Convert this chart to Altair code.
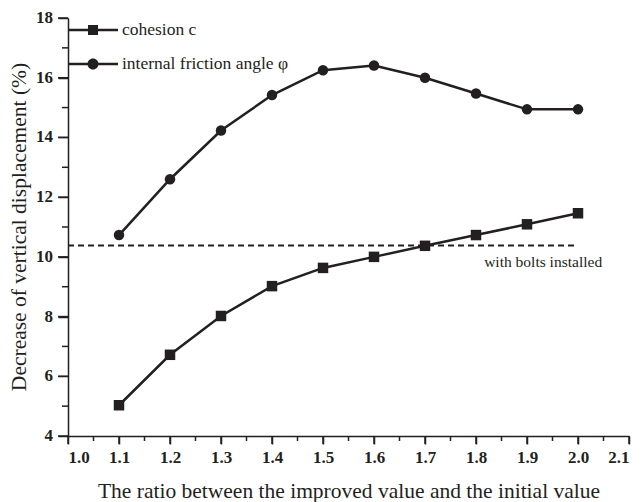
import altair as alt
import pandas as pd

# ---- data ----
ratio = [1.1, 1.2, 1.3, 1.4, 1.5, 1.6, 1.7, 1.8, 1.9, 2.0]
cohesion = [5.03, 6.72, 8.02, 9.02, 9.63, 10.0, 10.37, 10.73, 11.09, 11.46]
friction = [10.73, 12.6, 14.23, 15.42, 16.25, 16.41, 16.0, 15.47, 14.94, 14.94]
series_names = ["cohesion c", "internal friction angle φ"]
bolts_x = [1.0, 2.0]
bolts_value = 10.38
bolts_label = "with bolts installed"
bolts_label_pos = (1.816, 9.84)
x_major = [1.0, 1.1, 1.2, 1.3, 1.4, 1.5, 1.6, 1.7, 1.8, 1.9, 2.0, 2.1]
x_minor = [1.05, 1.15, 1.25, 1.35, 1.45, 1.55, 1.65, 1.75, 1.85, 1.95, 2.05]
y_major = [4, 6, 8, 10, 12, 14, 16, 18]
y_minor = [5, 7, 9, 11, 13, 15, 17]
y_title = "Decrease of vertical displacement (%)"
x_title = "The ratio between the improved value and the initial value"

INK = "#231f20"
FONT = "Liberation Serif"

df = pd.DataFrame({
    "ratio": ratio * 2,
    "value": cohesion + friction,
    "series": [series_names[0]] * len(ratio) + [series_names[1]] * len(ratio),
})
bolts_df = pd.DataFrame({"x": [bolts_x[0]], "x2": [bolts_x[1]], "y": [bolts_value]})
label_df = pd.DataFrame({"x": [bolts_label_pos[0]], "y": [bolts_label_pos[1]], "t": [bolts_label]})
xminor_df = pd.DataFrame({"x": x_minor})
xmajor_df = pd.DataFrame({"x": x_major})
yminor_df = pd.DataFrame({"y": y_minor})
ymajor_df = pd.DataFrame({"y": y_major, "lab": [str(v) for v in y_major]})
ytitle_df = pd.DataFrame({"t": [y_title]})

x_scale = alt.Scale(domain=[1.0, 2.1], nice=False, zero=False)
y_scale = alt.Scale(domain=[4, 18], nice=False, zero=False)

axis_style = dict(
    domainColor=INK, domainWidth=1.5, tickColor=INK, tickWidth=1.5,
    labelFont=FONT, labelFontSize=17, labelFontWeight="bold", labelColor=INK,
    titleFont=FONT, titleFontSize=21.5, titleFontWeight="normal", titleColor=INK,
    grid=False,
)
x_axis = alt.Axis(
    values=x_major, format=".1f", tickSize=8, title=x_title,
    labelPadding=5, titlePadding=15, **axis_style,
)
y_axis = alt.Axis(
    values=y_major, tickSize=10, labels=False, title=None, **axis_style,
)

base = alt.Chart(df)

lines = base.mark_line(color=INK, strokeWidth=2.5).encode(
    x=alt.X("ratio:Q", scale=x_scale, axis=x_axis),
    y=alt.Y("value:Q", scale=y_scale, axis=y_axis),
    detail="series:N",
)

points = base.mark_point(filled=True, color=INK, opacity=1, size=110).encode(
    x=alt.X("ratio:Q", scale=x_scale),
    y=alt.Y("value:Q", scale=y_scale),
    shape=alt.Shape("series:N", scale=alt.Scale(domain=series_names, range=["square", "circle"]), legend=None),
)

# legend symbols: a thin filled bar (the line) with the marker in the middle, all filled
legend_paths = [
    "M-1,-0.05L1,-0.05L1,0.05L-1,0.05ZM-0.2,-0.2L0.2,-0.2L0.2,0.2L-0.2,0.2Z",
    "M-1,-0.05L1,-0.05L1,0.05L-1,0.05ZM0.22,0A0.22,0.22,0,1,1,-0.22,0A0.22,0.22,0,1,1,0.22,0Z",
]
legend_layer = base.mark_point(filled=True, color=INK, opacity=1, clip=True).encode(
    y=alt.value(-500),
    shape=alt.Shape(
        "series:N",
        scale=alt.Scale(domain=series_names, range=legend_paths),
        legend=alt.Legend(
            title=None, orient="none", legendX=0, legendY=-13, padding=0,
            symbolSize=2500, symbolStrokeWidth=0, symbolFillColor=INK,
            labelFont=FONT, labelFontSize=17.5, labelColor=INK, labelOffset=4,
            labelLimit=400, rowPadding=-14, symbolOpacity=1,
        ),
    ),
)

xminor = alt.Chart(xminor_df).mark_tick(
    orient="vertical", size=5, thickness=1.5, color=INK, opacity=1, yOffset=2.5, clip=False
).encode(x=alt.X("x:Q", scale=x_scale), y=alt.Y(datum=4, scale=y_scale))

xmajor = alt.Chart(xmajor_df).mark_tick(
    orient="vertical", size=8, thickness=1.5, color=INK, opacity=1, yOffset=4, clip=False
).encode(x=alt.X("x:Q", scale=x_scale), y=alt.Y(datum=4, scale=y_scale))

yminor = alt.Chart(yminor_df).mark_tick(
    orient="horizontal", size=6, thickness=1.5, color=INK, opacity=1, xOffset=-3, clip=False
).encode(y=alt.Y("y:Q", scale=y_scale), x=alt.X(datum=1.0, scale=x_scale))

ymajor = alt.Chart(ymajor_df).mark_tick(
    orient="horizontal", size=10, thickness=1.5, color=INK, opacity=1, xOffset=-5, clip=False
).encode(y=alt.Y("y:Q", scale=y_scale), x=alt.X(datum=1.0, scale=x_scale))

ylabels = alt.Chart(ymajor_df).mark_text(
    align="right", baseline="middle", font=FONT, fontSize=17, fontWeight="bold",
    color=INK, xOffset=-15, clip=False
).encode(y=alt.Y("y:Q", scale=y_scale), x=alt.X(datum=1.0, scale=x_scale), text="lab:N")

ytitle = alt.Chart(ytitle_df).mark_text(
    align="center", baseline="middle", font=FONT, fontSize=21.5, color=INK,
    angle=270, xOffset=-48, clip=False
).encode(y=alt.Y(datum=11, scale=y_scale), x=alt.X(datum=1.0, scale=x_scale), text="t:N")

rule = alt.Chart(bolts_df).mark_rule(color=INK, strokeWidth=2, strokeDash=[6, 4]).encode(
    x=alt.X("x:Q", scale=x_scale), x2="x2:Q", y=alt.Y("y:Q", scale=y_scale)
)

text = alt.Chart(label_df).mark_text(
    align="left", baseline="middle", font=FONT, fontSize=15.5, color=INK
).encode(x=alt.X("x:Q", scale=x_scale), y=alt.Y("y:Q", scale=y_scale), text="t:N")

chart = alt.layer(
    lines, rule, points, legend_layer, xminor, xmajor, yminor, ymajor, ylabels, ytitle, text
).resolve_scale(
    shape="independent"
).properties(
    width=561, height=418,
    autosize=alt.AutoSizeParams(type="none"),
    padding={"left": 68, "top": 18, "right": 12, "bottom": 66},
    background="white",
).configure_view(stroke=None)

chart.save("out.html", embed_options={"renderer": "svg", "actions": False})
